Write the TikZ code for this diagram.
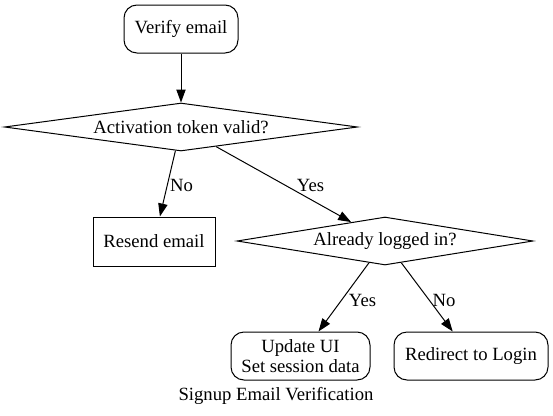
\documentclass[tikz,border=0pt]{standalone}
\usepackage{fontspec}
\setmainfont{Liberation Serif}
\usetikzlibrary{shapes.geometric,arrows.meta}
\tikzset{
  base/.style={draw, line width=1pt, inner sep=0pt, font=\fontsize{18.67}{20.5}\selectfont, align=center},
  roundbox/.style={base, rectangle, rounded corners=13pt},
  plainbox/.style={base, rectangle},
  decision/.style={base, diamond, shape aspect=7},
  arrow/.style={line width=1pt, -{Triangle[length=13pt,width=9.3pt]}},
  lbl/.style={font=\fontsize{18.67}{20.5}\selectfont, inner sep=0pt}
}
\begin{document}
\begin{tikzpicture}[x=1pt,y=-1pt]
\useasboundingbox (0,0) rectangle (553,415);
\node[roundbox, minimum width=114pt, minimum height=48pt] (verify) at (181,29) {Verify email};
\node[decision, minimum width=353pt, minimum height=48pt] (token) at (181,127) {Activation token valid?};
\node[plainbox, minimum width=122pt, minimum height=49pt] (resend) at (154,241.5) {Resend email};
\node[decision, minimum width=296pt, minimum height=48pt] (logged) at (385,241) {Already logged in?};
\node[roundbox, minimum width=139pt, minimum height=48pt] (update) at (300.5,356) {Update UI\\Set session data};
\node[roundbox, minimum width=154pt, minimum height=48pt] (redirect) at (471,356) {Redirect to Login};
\node[lbl] (caption) at (276,396) {Signup Email Verification};
\draw[arrow] (verify) -- (token);
\draw[arrow] (token) -- (resend) node[lbl] at (181.5,185) {No};
\draw[arrow] (token) -- (logged) node[lbl] at (310.5,185) {Yes};
\draw[arrow] (logged) -- (update) node[lbl] at (362.5,300) {Yes};
\draw[arrow] (logged) -- (redirect) node[lbl] at (444,300) {No};
\end{tikzpicture}
\end{document}
